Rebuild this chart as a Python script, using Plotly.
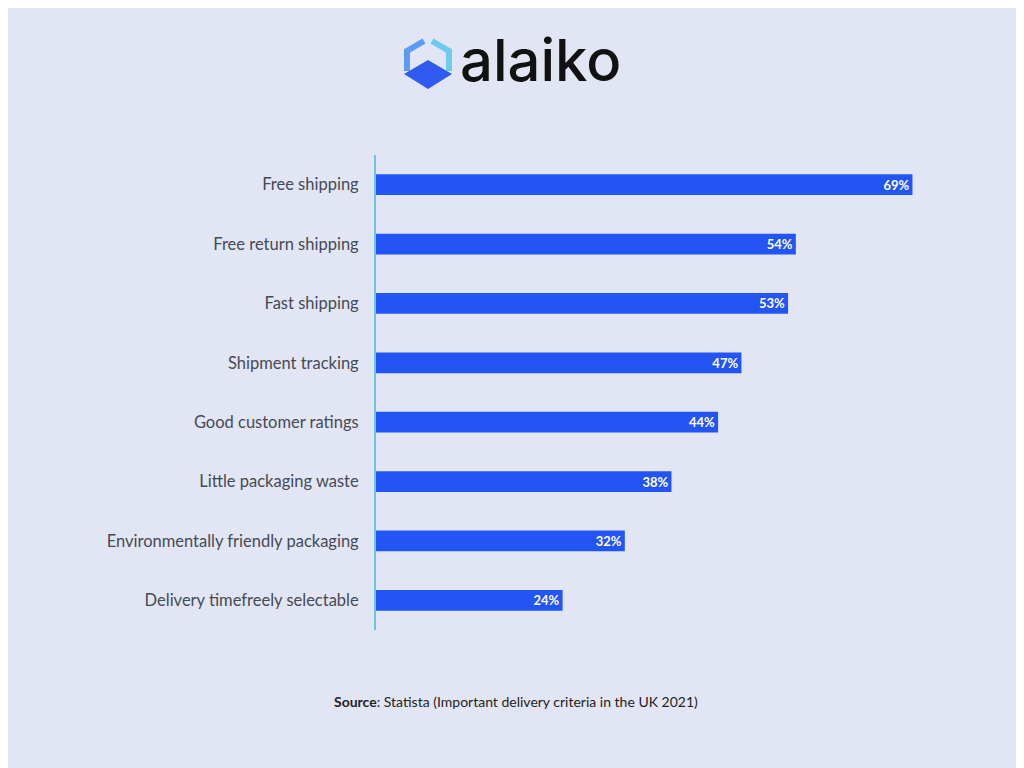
import plotly.graph_objects as go

categories = ["Free shipping", "Free return shipping", "Fast shipping", "Shipment tracking",
              "Good customer ratings", "Little packaging waste",
              "Environmentally friendly packaging", "Delivery timefreely selectable"]
values = [69, 54, 53, 47, 44, 38, 32, 24]
labels = [f"<b>{v}%</b>" for v in values]

W, H, OFF = 1016, 760, 8
def fx(X): return (X - OFF) / W
def fy(Y): return 1 - (Y - OFF) / H
def path(pts, close=False):
    s = " ".join(("M" if i == 0 else "L") + f" {fx(x):.4f} {fy(y):.4f}" for i, (x, y) in enumerate(pts))
    return s + (" Z" if close else "")

BG = "#e2e6f4"
fig = go.Figure(go.Bar(
    x=values, y=categories, orientation="h", width=0.35,
    marker=dict(color="#2355f5", line=dict(width=0)),
    text=labels, textposition="inside", insidetextanchor="end",
    textfont=dict(color="white", size=13, family="Lato"),
))
fig.update_layout(
    width=W, height=H, paper_bgcolor=BG, plot_bgcolor=BG,
    margin=dict(l=0, r=0, t=0, b=0), showlegend=False,
    xaxis=dict(domain=[fx(376), fx(998)], range=[0, 80], visible=False),
    yaxis=dict(domain=[fy(630), fy(155)], autorange="reversed", showgrid=False, ticks="",
               ticklabelstandoff=12, automargin=False,
               showline=True, linecolor="#6ec3e6", linewidth=2,
               tickfont=dict(size=16.5, color="#454a55", family="Lato")),
    font=dict(family="Lato"),
    uniformtext=dict(minsize=13, mode="show"),
)
# logo
fig.add_shape(type="path", xref="paper", yref="paper",
              path=path([(424, 41), (407, 51), (407, 71)]),
              line=dict(color="#5b9cf2", width=6))
fig.add_shape(type="path", xref="paper", yref="paper",
              path=path([(432, 41), (449, 51), (449, 71)]),
              line=dict(color="#6ecbf0", width=6))
fig.add_shape(type="path", xref="paper", yref="paper",
              path=path([(404, 74), (428, 60), (452, 74), (428, 89)], close=True),
              fillcolor="#2f5bf0", line=dict(width=0))
fig.add_annotation(x=fx(458), y=fy(60), xref="paper", yref="paper", xanchor="left", yanchor="middle",
                   text="alaiko", showarrow=False,
                   font=dict(size=58, color="#111111", family="Inter", weight=500))
fig.add_annotation(x=0.5, y=fy(701), xref="paper", yref="paper", xanchor="center", yanchor="middle",
                   text="<b>Source</b>: Statista (Important delivery criteria in the UK 2021)", showarrow=False,
                   font=dict(size=14, color="#222222", family="Lato"))
fig.write_html("out.html")
